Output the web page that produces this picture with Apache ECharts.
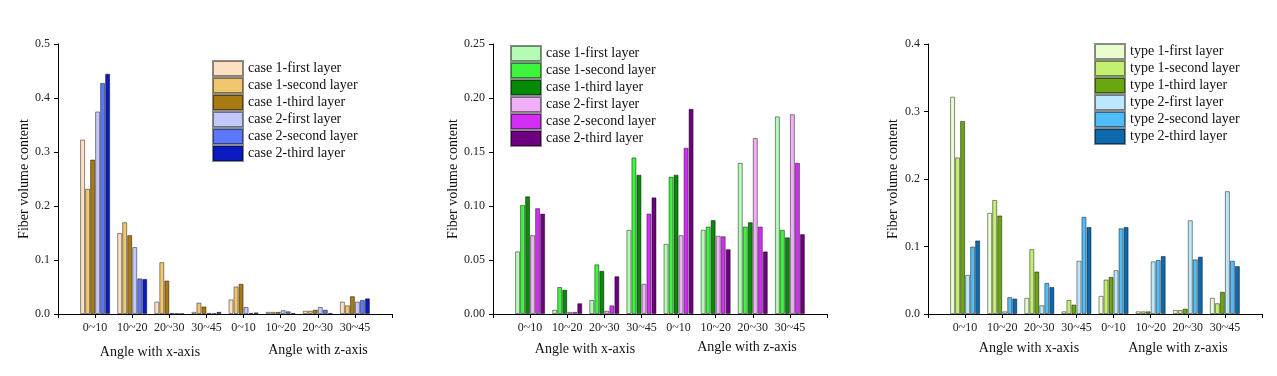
<!DOCTYPE html>
<html>
<head>
<meta charset="utf-8">
<script src="https://cdn.jsdelivr.net/npm/echarts@6/dist/echarts.min.js"></script>
<style>
  html, body { margin: 0; padding: 0; background: #fff; }
  #chart { width: 1277px; height: 376px; }
</style>
</head>
<body>
<div id="chart"></div>
<script>
// empty slots at both ends keep the groups off the axis ends
const categories = ["", "0~10", "10~20", "20~30", "30~45", "0~10", "10~20", "20~30", "30~45", ""];

// panel 1
const names1 = ["case 1-first layer", "case 1-second layer", "case 1-third layer", "case 2-first layer", "case 2-second layer", "case 2-third layer"];
const p1c1First = [0.323, 0.150, 0.023, 0.004, 0.027, 0.004, 0.006, 0.023];
const p1c1Second = [0.232, 0.170, 0.096, 0.021, 0.051, 0.004, 0.006, 0.016];
const p1c1Third = [0.286, 0.146, 0.062, 0.014, 0.056, 0.004, 0.008, 0.033];
const p1c2First = [0.375, 0.124, 0.002, 0.002, 0.013, 0.007, 0.013, 0.023];
const p1c2Second = [0.428, 0.066, 0.001, 0.001, 0.002, 0.005, 0.008, 0.026];
const p1c2Third = [0.445, 0.065, 0.001, 0.004, 0.003, 0.002, 0.002, 0.029];

// panel 2
const names2 = ["case 1-first layer", "case 1-second layer", "case 1-third layer", "case 2-first layer", "case 2-second layer", "case 2-third layer"];
const p2c1First = [0.058, 0.004, 0.013, 0.078, 0.065, 0.078, 0.140, 0.183];
const p2c1Second = [0.101, 0.025, 0.046, 0.145, 0.127, 0.081, 0.081, 0.078];
const p2c1Third = [0.109, 0.0225, 0.040, 0.129, 0.129, 0.087, 0.085, 0.071];
const p2c2First = [0.073, 0.002, 0.003, 0.028, 0.073, 0.0725, 0.163, 0.185];
const p2c2Second = [0.098, 0.002, 0.008, 0.093, 0.154, 0.072, 0.081, 0.140];
const p2c2Third = [0.093, 0.010, 0.035, 0.108, 0.190, 0.060, 0.058, 0.074];

// panel 3
const names3 = ["type 1-first layer", "type 1-second layer", "type 1-third layer", "type 2-first layer", "type 2-second layer", "type 2-third layer"];
const p3t1First = [0.322, 0.150, 0.024, 0.004, 0.027, 0.004, 0.006, 0.024];
const p3t1Second = [0.232, 0.169, 0.096, 0.021, 0.051, 0.004, 0.006, 0.016];
const p3t1Third = [0.286, 0.146, 0.063, 0.014, 0.055, 0.004, 0.008, 0.033];
const p3t2First = [0.058, 0.004, 0.013, 0.079, 0.065, 0.078, 0.139, 0.182];
const p3t2Second = [0.100, 0.025, 0.046, 0.144, 0.127, 0.080, 0.081, 0.079];
const p3t2Third = [0.109, 0.023, 0.040, 0.129, 0.129, 0.086, 0.085, 0.071];

const colors1 = ["#FDE0C2", "#F0C66E", "#A77A14", "#C2C8FA", "#5C78F8", "#0A1AC0"];
const colors2 = ["#B5FAB5", "#3CF53C", "#078A07", "#EFB0F7", "#D42EF5", "#6E0080"];
const colors3 = ["#EAFDD0", "#C4F070", "#6AA512", "#BDE8FC", "#50BDF8", "#0D69AD"];

const FONT = "'Times New Roman', 'Liberation Serif', serif";

const panels = [
  { names: names1, colors: colors1, data: [p1c1First, p1c1Second, p1c1Third, p1c2First, p1c2Second, p1c2Third],
    grid: { left: 58, right: 885 }, max: 0.5, interval: 0.1, digits: 1, nameGap: 25,
    legend: { left: 212, top: 60 } },
  { names: names2, colors: colors2, data: [p2c1First, p2c1Second, p2c1Third, p2c2First, p2c2Second, p2c2Third],
    grid: { left: 493, right: 450 }, max: 0.25, interval: 0.05, digits: 2, nameGap: 33,
    legend: { left: 510, top: 45 } },
  { names: names3, colors: colors3, data: [p3t1First, p3t1Second, p3t1Third, p3t2First, p3t2Second, p3t2Third],
    grid: { left: 928, right: 15 }, max: 0.4, interval: 0.1, digits: 1, nameGap: 28,
    legend: { left: 1094, top: 43 } }
];

const grid = [];
const xAxis = [];
const yAxis = [];
const legend = [];
const series = [];

panels.forEach((p, i) => {
  grid.push({ left: p.grid.left, right: p.grid.right, top: 44, bottom: 62, containLabel: false });
  xAxis.push({
    type: "category",
    gridIndex: i,
    data: categories,
    boundaryGap: false,
    axisLine: { lineStyle: { color: "#000", width: 1 } },
    axisTick: { interval: 0, length: 4, lineStyle: { color: "#000" } },
    axisLabel: { interval: 0, margin: 8, fontSize: 12, fontFamily: FONT, color: "#222" },
    splitLine: { show: false }
  });
  yAxis.push({
    type: "value",
    gridIndex: i,
    min: 0,
    max: p.max,
    interval: p.interval,
    name: "Fiber volume content",
    nameLocation: "middle",
    nameGap: p.nameGap,
    nameTextStyle: { fontSize: 14, fontFamily: FONT, color: "#111" },
    axisLine: { show: true, lineStyle: { color: "#000", width: 1 } },
    axisTick: { show: true, length: 4, lineStyle: { color: "#000" } },
    axisLabel: { margin: 8, fontSize: 12, fontFamily: FONT, color: "#222",
      formatter: v => v.toFixed(p.digits) },
    splitLine: { show: false }
  });
  legend.push({
    orient: "vertical",
    left: p.legend.left,
    top: p.legend.top,
    itemWidth: 30,
    itemHeight: 15,
    itemGap: 0,
    icon: "rect",
    padding: 0,
    data: p.names.map(n => "p" + i + "|" + n),
    formatter: name => name.split("|")[1],
    textStyle: { fontSize: 14, fontFamily: FONT, color: "#111", lineHeight: 15 }
  });
  p.names.forEach((n, k) => {
    series.push({
      type: "bar",
      name: "p" + i + "|" + n,
      xAxisIndex: i,
      yAxisIndex: i,
      barGap: "0%",
      barCategoryGap: "19%",
      itemStyle: { color: p.colors[k], borderColor: "rgba(0,0,0,0.45)", borderWidth: 1 },
      data: [null].concat(p.data[k], [null])
    });
  });
});

// group captions under each panel
const captions = [
  ["Angle with x-axis", 150, 352], ["Angle with z-axis", 318, 350],
  ["Angle with x-axis", 585, 349], ["Angle with z-axis", 747, 347],
  ["Angle with x-axis", 1029, 348], ["Angle with z-axis", 1178, 348]
];

const myChart = echarts.init(document.getElementById("chart"));
myChart.setOption({
  animation: false,
  backgroundColor: "#fff",
  grid,
  xAxis,
  yAxis,
  legend,
  series,
  graphic: captions.map(c => ({
    type: "text",
    x: c[1],
    y: c[2],
    style: { text: c[0], font: "14px " + FONT, fill: "#111", textAlign: "center", textVerticalAlign: "middle" }
  }))
});
</script>
</body>
</html>
